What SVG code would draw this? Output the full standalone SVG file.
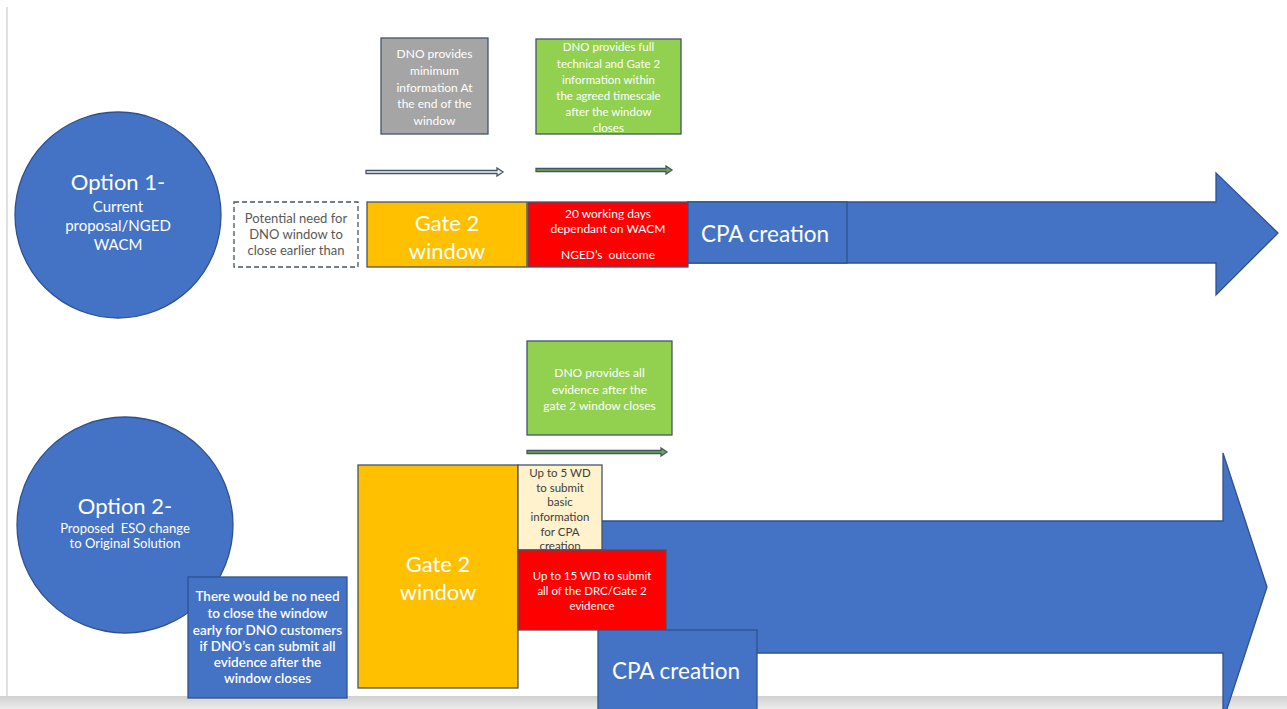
<svg xmlns="http://www.w3.org/2000/svg" width="1287" height="709" viewBox="0 0 1287 709">
<defs>
<linearGradient id="band" x1="0" y1="0" x2="0" y2="1"><stop offset="0" stop-color="#d0d0d0"/><stop offset="1" stop-color="#ececec"/></linearGradient>
</defs>
<style>
text{font-family:Lato,"Open Sans","Liberation Sans",sans-serif;text-anchor:middle;dominant-baseline:central}
.w{fill:#ffffff}
.blue{fill:#4472c4;stroke:#2f528f;stroke-width:1.3}
.gold{fill:#ffc000;stroke:#44546a;stroke-width:1.3}
.red{fill:#ff0000;stroke:#44546a;stroke-width:1.3}
.green{fill:#92d050;stroke:#44546a;stroke-width:1.3}
.grey{fill:#a5a5a5;stroke:#44546a;stroke-width:1.3}
.beige{fill:#fff2cc;stroke:#44546a;stroke-width:1.3}
.s12{font-size:12px}
.s11{font-size:11.5px}
.s14{font-size:15px}
.s13{font-size:13px}
.note{font-size:13.5px;font-weight:600}
.big{font-size:22px}
.cpa{font-size:22.5px}
</style>
<rect x="0" y="0" width="1287" height="709" fill="#ffffff"/>
<rect x="6" y="7" width="2" height="693" fill="#e0e0e0"/>
<rect x="0" y="696" width="1287" height="13" fill="url(#band)"/>

<g id="connectors">
<path d="M366,170.5 H497 V168 L503,172 L497,176 V173.5 H366 Z" fill="#f2f2f2" stroke="#44546a" stroke-width="1.3"/>
<path d="M536,168.5 H666 V166 L672,170 L666,174 V171.5 H536 Z" fill="#70ad47" stroke="#44546a" stroke-width="1.3"/>
<path d="M527,450.5 H661 V448 L667,452 L661,456 V453.5 H527 Z" fill="#70ad47" stroke="#44546a" stroke-width="1.3"/>
<path id="bigarrow1" class="blue" d="M688,202 H1216 V173 L1278,233 L1216,295 V263 H688 Z"/>
<path id="bigarrow2" class="blue" d="M601,521 H1223 V453 L1267,587 L1223,721 V653 H601 Z"/>
</g>

<g id="option1">
<circle cx="118" cy="215" r="103" class="blue"/>
<text class="w big" x="118" y="181">Option 1-</text>
<text class="w s14" x="118" y="206">Current</text>
<text class="w s14" x="118" y="225">proposal/NGED</text>
<text class="w s14" x="118" y="244">WACM</text>
</g>

<g id="potential-need">
<rect x="234" y="202" width="124" height="65" fill="#ffffff" stroke="#44546a" stroke-width="1.3" stroke-dasharray="5,3"/>
<text class="s13" fill="#595959" x="296" y="218">Potential need for</text>
<text class="s13" fill="#595959" x="296" y="234">DNO window to</text>
<text class="s13" fill="#595959" x="296" y="250">close earlier than</text>
</g>

<g id="dno-minimum">
<rect x="381" y="38" width="107" height="96" class="grey"/>
<text class="w s12" x="434.5" y="53">DNO provides</text>
<text class="w s12" x="434.5" y="70">minimum</text>
<text class="w s12" x="434.5" y="87">information At</text>
<text class="w s12" x="434.5" y="103">the end of the</text>
<text class="w s12" x="434.5" y="120">window</text>
</g>

<g id="dno-full">
<rect x="536" y="39" width="145" height="95" class="green"/>
<text class="w s11" x="608.5" y="46">DNO provides full</text>
<text class="w s11" x="608.5" y="63">technical and Gate 2</text>
<text class="w s11" x="608.5" y="79">information within</text>
<text class="w s11" x="608.5" y="95">the agreed timescale</text>
<text class="w s11" x="608.5" y="111">after the window</text>
<text class="w s11" x="608.5" y="127">closes</text>
</g>

<g id="gate2-window-1">
<rect x="367" y="202" width="160" height="65" class="gold"/>
<text class="w big" x="447" y="222">Gate 2</text>
<text class="w big" x="447" y="250">window</text>
</g>

<g id="twenty-days">
<rect x="528" y="202" width="160" height="65" class="red"/>
<text class="w s12" x="608" y="213">20 working days</text>
<text class="w s12" x="608" y="228">dependant on WACM</text>
<text class="w s12" x="608" y="254">NGED’s&#160; outcome</text>
</g>

<g id="cpa-1">
<rect x="688" y="202" width="159" height="61" class="blue"/>
<text class="w cpa" x="765" y="233">CPA creation</text>
</g>

<g id="option2">
<circle cx="125" cy="525" r="108" class="blue"/>
<text class="w big" x="125" y="505">Option 2-</text>
<text class="w s13" x="125" y="528">Proposed&#160; ESO change</text>
<text class="w s13" x="125" y="543">to Original Solution</text>
</g>

<g id="no-need">
<rect x="188" y="577" width="159" height="121" class="blue"/>
<text class="w note" x="267.5" y="596">There would be no need</text>
<text class="w note" x="267.5" y="613">to close the window</text>
<text class="w note" x="267.5" y="630">early for DNO customers</text>
<text class="w note" x="267.5" y="646">if DNO’s can submit all</text>
<text class="w note" x="267.5" y="662">evidence after the</text>
<text class="w note" x="267.5" y="678">window closes</text>
</g>

<g id="dno-all-evidence">
<rect x="527" y="341" width="145" height="94" class="green"/>
<text class="w s12" x="599.5" y="372">DNO provides all</text>
<text class="w s12" x="599.5" y="389">evidence after the</text>
<text class="w s12" x="599.5" y="405">gate 2 window closes</text>
</g>

<g id="gate2-window-2">
<rect x="358" y="465" width="160" height="223" class="gold"/>
<text class="w big" x="438" y="563">Gate 2</text>
<text class="w big" x="438" y="591">window</text>
</g>

<g id="five-wd">
<rect x="518" y="465" width="84" height="85" class="beige"/>
<text class="s11" fill="#404040" x="560" y="472">Up to 5 WD</text>
<text class="s11" fill="#404040" x="560" y="487">to submit</text>
<text class="s11" fill="#404040" x="560" y="501">basic</text>
<text class="s11" fill="#404040" x="560" y="516">information</text>
<text class="s11" fill="#404040" x="560" y="531">for CPA</text>
<text class="s11" fill="#404040" x="560" y="545">creation</text>
</g>

<g id="fifteen-wd">
<rect x="518" y="550" width="148" height="80" class="red"/>
<text class="w s11" x="592" y="575">Up to 15 WD to submit</text>
<text class="w s11" x="592" y="590">all of the DRC/Gate 2</text>
<text class="w s11" x="592" y="605">evidence</text>
</g>

<g id="cpa-2">
<rect x="598" y="630" width="159" height="85" class="blue"/>
<text class="w cpa" x="676" y="670">CPA creation</text>
</g>
</svg>
